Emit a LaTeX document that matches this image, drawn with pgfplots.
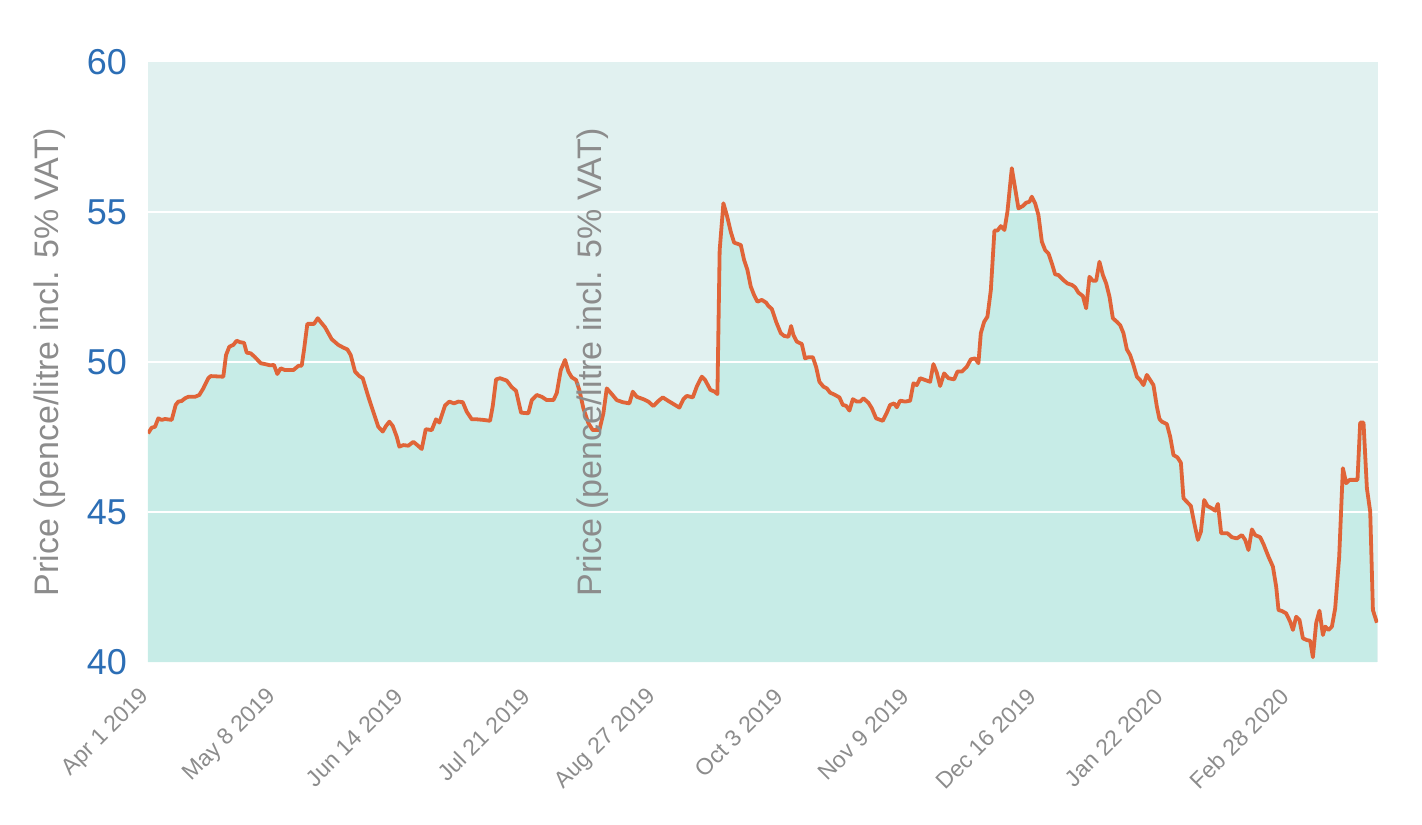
\documentclass[border=0pt]{standalone}
\usepackage{fontspec}
\setmainfont{Liberation Sans}
\usepackage{pgfplots}
\pgfplotsset{compat=1.18}
\usepackage{pgfplotstable}

\definecolor{bgcol}{RGB}{225,241,240}
\definecolor{areacol}{RGB}{199,236,231}
\definecolor{linecol}{RGB}{224,100,56}
\definecolor{tickblue}{RGB}{44,110,181}
\definecolor{labgray}{RGB}{140,140,140}

% day (0 = Apr 1 2019), price
\pgfplotstableread{
day price
0 47.62
1.08 47.81
2.05 47.84
3.01 48.12
4.0 48.07
4.97 48.10
6.93 48.07
8.1 48.57
8.86 48.68
9.85 48.70
10.82 48.79
11.78 48.84
13.74 48.84
15.0 48.90
16.17 49.12
17.63 49.46
18.33 49.53
22.02 49.51
22.81 50.23
23.77 50.51
24.94 50.57
25.94 50.71
26.9 50.66
28.07 50.64
28.86 50.31
30.03 50.29
31.29 50.16
32.95 49.96
34.21 49.93
35.67 49.89
36.84 49.90
37.81 49.60
38.8 49.79
40.06 49.73
42.49 49.73
43.95 49.87
44.94 49.88
45.61 50.40
46.58 51.27
48.54 51.27
49.62 51.46
50.79 51.29
51.75 51.16
53.71 50.76
55.64 50.57
57.11 50.48
58.28 50.42
59.27 50.23
60.53 49.68
61.78 49.53
62.78 49.46
64.42 48.84
65.88 48.34
67.34 47.84
68.63 47.68
69.59 47.87
70.56 48.01
71.55 47.87
72.72 47.51
73.48 47.18
74.65 47.23
76.11 47.21
77.57 47.34
78.74 47.23
80.03 47.10
81.2 47.76
82.95 47.73
84.21 48.09
85.17 47.98
86.84 48.55
88.1 48.68
89.47 48.62
90.73 48.68
92.02 48.66
93.19 48.34
94.65 48.09
96.11 48.09
98.04 48.07
100.0 48.04
100.79 48.53
101.76 49.42
102.92 49.46
104.88 49.38
106.35 49.16
107.6 49.04
109.07 48.31
111.2 48.29
112.2 48.73
113.66 48.90
115.12 48.84
116.58 48.73
118.51 48.73
119.5 48.96
120.67 49.73
121.93 50.07
122.9 49.68
123.89 49.49
125.15 49.40
126.11 49.07
127.28 48.46
128.75 47.96
130.03 47.73
131.96 47.73
133.13 48.29
134.12 49.12
135.59 48.93
137.05 48.73
138.8 48.66
140.73 48.62
141.73 49.01
142.9 48.84
144.83 48.76
146.29 48.68
147.75 48.53
149.21 48.70
150.5 48.82
152.14 48.70
153.6 48.60
155.35 48.48
156.52 48.76
157.52 48.87
159.27 48.82
160.44 49.18
161.9 49.51
162.87 49.40
164.43 49.07
165.68 49.01
166.47 48.93
167.13 53.73
168.22 55.29
169.21 54.90
170.38 54.34
171.35 53.98
173.31 53.90
174.27 53.40
175.24 53.07
176.23 52.51
177.2 52.23
178.16 52.01
179.45 52.07
180.7 51.98
181.37 51.87
182.37 51.77
183.63 51.34
185.0 50.96
185.97 50.87
187.22 50.84
188.01 51.20
188.69 50.90
189.68 50.68
191.14 50.60
192.11 50.12
193.07 50.16
194.36 50.16
195.32 49.84
196.29 49.34
197.46 49.18
198.45 49.12
199.42 48.98
200.88 48.90
202.14 48.82
203.13 48.57
204.1 48.54
205.06 48.38
206.06 48.76
207.23 48.68
208.19 48.68
209.16 48.79
210.62 48.64
211.61 48.46
212.87 48.12
214.83 48.04
216.0 48.31
216.96 48.57
218.13 48.62
218.92 48.49
219.88 48.71
221.35 48.68
222.81 48.71
223.78 49.29
224.77 49.23
225.73 49.46
227.2 49.40
228.66 49.34
229.62 49.93
230.62 49.64
231.58 49.20
232.75 49.62
234.0 49.46
235.67 49.42
236.64 49.68
237.92 49.68
239.38 49.84
240.55 50.09
241.81 50.12
242.78 49.96
243.48 50.96
244.45 51.34
245.41 51.51
246.41 52.40
247.46 54.38
248.34 54.38
249.33 54.53
250.38 54.40
251.26 55.01
252.54 56.46
253.51 55.79
254.48 55.12
255.76 55.20
256.73 55.31
257.69 55.34
258.39 55.51
259.36 55.29
260.32 54.90
261.32 54.01
262.28 53.73
263.25 53.62
264.24 53.29
265.21 52.92
266.17 52.90
267.63 52.73
268.8 52.62
270.09 52.57
271.05 52.49
272.02 52.31
273.31 52.20
274.27 51.79
275.24 52.84
276.23 52.71
277.2 52.71
278.16 53.34
279.16 52.90
280.12 52.62
281.09 52.18
282.08 51.46
283.25 51.34
284.21 51.23
285.18 50.96
286.17 50.42
287.14 50.23
288.1 49.90
289.1 49.51
290.06 49.40
291.03 49.23
292.02 49.57
292.99 49.40
293.95 49.23
294.95 48.51
295.71 48.10
296.41 48.01
297.87 47.93
298.84 47.51
299.8 46.90
300.97 46.82
301.97 46.64
302.73 45.46
303.72 45.34
304.89 45.20
305.86 44.64
306.94 44.07
307.82 44.34
308.78 45.40
309.75 45.20
311.03 45.12
312.0 45.04
312.79 45.27
313.75 44.29
315.6 44.29
316.88 44.16
318.34 44.12
319.8 44.23
320.77 44.07
321.73 43.73
322.73 44.42
323.69 44.23
325.15 44.16
326.12 43.93
327.58 43.51
328.87 43.18
329.83 42.51
330.51 41.73
331.5 41.70
332.76 41.62
333.93 41.34
334.72 41.07
335.68 41.51
336.65 41.40
337.64 40.79
338.81 40.73
339.77 40.71
340.56 40.16
341.53 41.31
342.49 41.71
343.49 40.90
344.16 41.18
345.13 41.07
346.12 41.18
347.08 41.79
348.25 43.51
349.33 46.46
350.3 45.96
351.26 46.07
353.6 46.07
354.39 47.98
355.36 47.98
356.35 45.79
357.32 45.01
358.11 41.73
359.28 41.31
}\pricedata

\begin{document}
\begin{tikzpicture}
\path[use as bounding box] (-74pt,-81pt) rectangle (637pt,331pt);
\begin{axis}[
    scale only axis,
    width=615pt, height=300pt,
    xmin=0, xmax=359.6,
    ymin=40, ymax=60,
    ytick={40,45,50,55,60},
    xtick={0,37,74,111,148,185,222,259,296,333},
    xticklabels={Apr 1 2019,May 8 2019,Jun 14 2019,Jul 21 2019,Aug 27 2019,Oct 3 2019,Nov 9 2019,Dec 16 2019,Jan 22 2020,Feb 28 2020},
    /pgf/number format/assume math mode=true,
    axis line style={draw=none},
    major tick length=0pt,
    axis background/.style={fill=bgcol},
    yticklabel style={font=\fontsize{18}{20}\selectfont, text=tickblue, xshift=-7pt},
    xticklabel style={font=\fontsize{11.5}{13}\selectfont, text=labgray, yshift=-13pt, xshift=1.5pt, rotate=45, anchor=east},
    every axis y label/.style={at={(rel axis cs:0,0.5)}, xshift=-49pt, rotate=90, anchor=center},
    ylabel={Price (pence/litre incl. 5\% VAT)},
    ylabel style={font=\fontsize{17}{19}\selectfont, text=labgray},
]
\addplot[draw=none, fill=areacol] table[x=day, y=price] {\pricedata} \closedcycle;
\draw[white, line width=1pt] (axis cs:0,45) -- (axis cs:359.6,45);
\draw[white, line width=1pt] (axis cs:0,50) -- (axis cs:359.6,50);
\draw[white, line width=1pt] (axis cs:0,55) -- (axis cs:359.6,55);
\addplot[linecol, line width=1.9pt, line join=round] table[x=day, y=price] {\pricedata};
\node[rotate=90, anchor=center, text=labgray, font=\fontsize{17}{19}\selectfont] at (axis cs:130.1,50) {Price (pence/litre incl. 5\% VAT)};
\end{axis}
\end{tikzpicture}
\end{document}
